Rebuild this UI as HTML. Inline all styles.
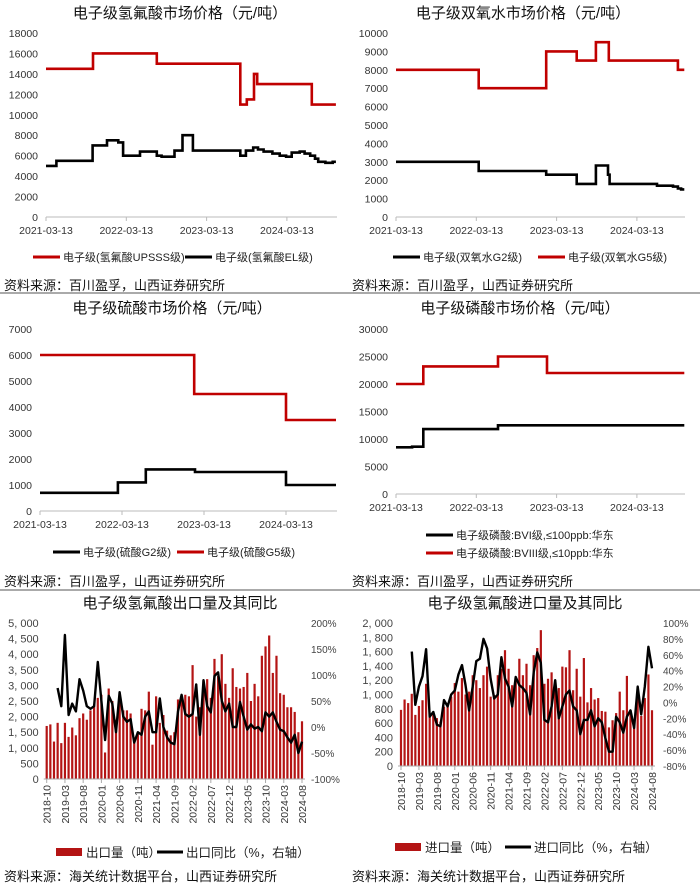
<!DOCTYPE html>
<html><head><meta charset="utf-8">
<style>
html,body{margin:0;padding:0;background:#fff;}
svg{display:block;font-family:"Liberation Sans","Noto Sans CJK SC",sans-serif;}
</style></head>
<body>
<svg id="page" width="700" height="885" viewBox="0 0 700 885" xmlns="http://www.w3.org/2000/svg">
<rect width="700" height="885" fill="#fff"/>
<line x1="0" y1="293" x2="700" y2="293" stroke="#555" stroke-width="1"/>
<line x1="0" y1="590" x2="700" y2="590" stroke="#555" stroke-width="1"/>
<g id="root"></g>
</svg>
<script>
// ---------- chart data (step series: start dates as decimal years, values) ----------
const hfRedT = [2021.2, 2021.785, 2022.58, 2023.62, 2023.70, 2023.79, 2023.83, 2024.51, 2024.81];
const hfRedV = [14500, 16000, 15000, 11000, 11500, 14000, 13000, 11000, 11000];
const hfBlkT = [2021.2, 2021.33, 2021.78, 2021.96, 2022.1, 2022.16, 2022.37, 2022.58, 2022.64, 2022.8, 2022.9, 2023.03, 2023.62, 2023.69, 2023.78, 2023.84, 2023.91, 2024.02, 2024.11, 2024.19, 2024.26, 2024.36, 2024.42, 2024.49, 2024.55, 2024.59, 2024.68, 2024.77, 2024.81];
const hfBlkV = [5000, 5500, 7000, 7500, 7300, 6000, 6400, 6000, 5900, 6500, 8000, 6500, 6000, 6500, 6800, 6600, 6400, 6200, 6000, 5900, 6300, 6400, 6200, 6000, 5700, 5400, 5300, 5400, 5400];
const hfTicks = [0, 2000, 4000, 6000, 8000, 10000, 12000, 14000, 16000, 18000];

const h2RedT = [2021.2, 2022.23, 2023.07, 2023.45, 2023.69, 2023.85, 2024.71, 2024.79];
const h2RedV = [8000, 7000, 9000, 8500, 9500, 8500, 8000, 8000];
const h2BlkT = [2021.2, 2022.23, 2023.07, 2023.45, 2023.69, 2023.84, 2023.86, 2024.45, 2024.65, 2024.71, 2024.75, 2024.79];
const h2BlkV = [3000, 2500, 2300, 1800, 2800, 2300, 1800, 1700, 1650, 1550, 1500, 1500];
const h2Ticks = [0, 1000, 2000, 3000, 4000, 5000, 6000, 7000, 8000, 9000, 10000];

const saRedT = [2021.2, 2023.08, 2024.2, 2024.81];
const saRedV = [6000, 4500, 3500, 3500];
const saBlkT = [2021.2, 2022.15, 2022.49, 2023.09, 2024.2, 2024.81];
const saBlkV = [700, 1100, 1600, 1500, 1000, 1000];
const saTicks = [0, 1000, 2000, 3000, 4000, 5000, 6000, 7000];

const paRedT = [2021.2, 2021.54, 2022.47, 2023.08, 2024.79];
const paRedV = [20000, 23200, 25000, 22000, 22000];
const paBlkT = [2021.2, 2021.4, 2021.54, 2022.47, 2024.79];
const paBlkV = [8500, 8600, 11800, 12500, 12500];
const paTicks = [0, 5000, 10000, 15000, 20000, 25000, 30000];

const dateTicks = ["2021-03-13", "2022-03-13", "2023-03-13", "2024-03-13"];
const dateTickT = [2021.2, 2022.2, 2023.2, 2024.2];

// ---------- monthly trade data 2018-10 .. 2024-08 ----------
const monthLabels = ["2018-10","2019-03","2019-08","2020-01","2020-06","2020-11","2021-04","2021-09","2022-02","2022-07","2022-12","2023-05","2023-10","2024-03","2024-08"];
const exportVol = [1700,1750,1200,1800,1150,1800,1350,1650,1400,1950,2100,1900,2200,2400,2600,2700,850,2900,2500,1900,2450,2200,2200,2100,1300,1500,2250,2200,2800,1100,2650,1800,2050,1550,1400,1500,2550,2500,2700,2650,3650,2000,2300,3150,3200,2600,3850,3300,4000,3050,2600,3550,2950,2900,2950,3400,2500,3050,2650,3950,4250,4600,3400,3950,2750,2700,2300,2300,2150,1500,1850];
const exportYoY = [null,null,null,75,40,177,23,45,30,92,70,40,35,40,125,50,-25,60,45,-10,67,20,10,15,-30,-10,-15,20,30,-10,-10,55,0,-20,-30,-33,30,62,25,20,25,82,-15,90,40,28,98,105,50,30,45,0,0,48,20,-5,5,-3,0,-8,28,20,28,10,-5,-8,-20,-30,-15,-50,-28];
const importVol = [785,930,880,1010,715,840,920,1150,720,760,670,620,830,880,970,1160,1040,1230,1000,1040,1270,1200,1090,1270,1390,970,990,1270,1360,1620,1360,1130,1180,1500,1270,1430,1130,1550,1650,1900,1150,1220,1310,1150,1090,1390,1380,1620,1060,1360,970,1510,890,1090,930,950,770,760,540,640,740,1040,780,1260,780,650,950,700,950,1280,780];
const importYoY = [null,null,null,64,-3,20,33,67,-18,-12,-28,-30,3,-5,10,15,35,47,22,-10,20,52,55,80,68,30,5,10,57,30,20,-5,32,22,18,12,-15,38,63,50,-22,-25,-5,28,-20,-5,10,15,-5,-10,-40,-22,-22,-10,-30,-20,-25,-45,-62,-62,-18,-25,-38,-18,-10,-32,20,-15,20,70,43];
const exLeftTicks = [0,500,1000,1500,2000,2500,3000,3500,4000,4500,5000];
const exRightTicks = [-100,-50,0,50,100,150,200];
const imLeftTicks = [0,200,400,600,800,1000,1200,1400,1600,1800,2000];
const imRightTicks = [-80,-60,-40,-20,0,20,40,60,80,100];

const NS = "http://www.w3.org/2000/svg";
const root = document.getElementById("root");
const RED = "#c00000", BLK = "#000";
function mk(tag, attrs, parent, txt) {
  const e = document.createElementNS(NS, tag);
  for (const k in attrs) e.setAttribute(k, attrs[k]);
  if (txt !== undefined) e.textContent = txt;
  (parent || root).appendChild(e);
  return e;
}
function fmtK(v){ return v>=1000 ? Math.floor(v/1000)+", "+String(v%1000).padStart(3,"0") : String(v); }

function stepPath(T, V, xf, yf) {
  let d = "M" + xf(T[0]).toFixed(1) + "," + yf(V[0]).toFixed(1);
  for (let i = 1; i < T.length; i++) {
    d += " H" + xf(T[i]).toFixed(1) + " V" + yf(V[i]).toFixed(1);
  }
  return d;
}

function priceChart(cfg) {
  const g = mk("g", {});
  
  
  const xf = t => cfg.x0 + (t - 2021.2) * cfg.xpy;
  const yf = v => cfg.yb - (v / cfg.vmax) * (cfg.yb - cfg.yt);
  const title = mk("text", {x: cfg.tx, y: cfg.ty, "text-anchor": "middle", "font-size": 15, fill: "#111"}, g, cfg.title);
  
  
  cfg.ticks.forEach(v => {
    const t = mk("text", {x: cfg.x0 - 8, y: yf(v) + 4, "text-anchor": "end", "font-size": 10.5, fill: "#333"}, g, String(v));
    
    
  });
  const ax = mk("line", {x1: cfg.x0, y1: cfg.yb, x2: cfg.xend, y2: cfg.yb, stroke: "#bbb", "stroke-width": 1}, g);
  
  
  dateTickT.forEach((t, i) => {
    mk("line", {x1: xf(t), y1: cfg.yb, x2: xf(t), y2: cfg.yb + 4, stroke: "#bbb"}, g);
    const l = mk("text", {x: xf(t), y: cfg.yb + 17, "text-anchor": "middle", "font-size": 10.5, fill: "#333"}, g, dateTicks[i]);
    
    
  });
  cfg.series.forEach(s => {
    const p = mk("path", {d: stepPath(s.T, s.V, xf, yf), fill: "none", stroke: s.c, "stroke-width": 2.6, "stroke-linejoin": "miter"}, g);
    
    
  });
  cfg.legend.forEach(L => {
    const lg = mk("g", {}, g);
    
    
    mk("line", {x1: L.x, y1: L.y, x2: L.x + 27, y2: L.y, stroke: L.c, "stroke-width": 3}, lg);
    mk("text", {x: L.x + 30, y: L.y + 4, "font-size": 11, fill: "#222"}, lg, L.t);
  });
  const src = mk("text", {x: cfg.sx, y: cfg.sy, "font-size": 13, fill: "#111"}, g, "资料来源：百川盈孚，山西证券研究所");
  
  
}

priceChart({name: "hf-price-chart", title: "电子级氢氟酸市场价格（元/吨）", tx: 180, ty: 18, x0: 46, xpy: 80.3, xend: 337, yb: 217, yt: 33, vmax: 18000, ticks: hfTicks,
  series: [{T: hfRedT, V: hfRedV, c: RED, name: "line-upsss"}, {T: hfBlkT, V: hfBlkV, c: BLK, name: "line-el"}],
  legend: [{x: 33, y: 257, c: RED, t: "电子级(氢氟酸UPSSS级)"}, {x: 185, y: 257, c: BLK, t: "电子级(氢氟酸EL级)"}], sx: 4, sy: 290});
priceChart({name: "h2o2-price-chart", title: "电子级双氧水市场价格（元/吨）", tx: 523, ty: 18, x0: 396, xpy: 80.3, xend: 685, yb: 217, yt: 33, vmax: 10000, ticks: h2Ticks,
  series: [{T: h2RedT, V: h2RedV, c: RED, name: "line-g5"}, {T: h2BlkT, V: h2BlkV, c: BLK, name: "line-g2"}],
  legend: [{x: 393, y: 257, c: BLK, t: "电子级(双氧水G2级)"}, {x: 538, y: 257, c: RED, t: "电子级(双氧水G5级)"}], sx: 352, sy: 290});
priceChart({name: "sulfuric-price-chart", title: "电子级硫酸市场价格（元/吨）", tx: 172, ty: 313, x0: 40, xpy: 82, xend: 337, yb: 511, yt: 329, vmax: 7000, ticks: saTicks,
  series: [{T: saRedT, V: saRedV, c: RED, name: "line-g5"}, {T: saBlkT, V: saBlkV, c: BLK, name: "line-g2"}],
  legend: [{x: 53, y: 552, c: BLK, t: "电子级(硫酸G2级)"}, {x: 177, y: 552, c: RED, t: "电子级(硫酸G5级)"}], sx: 4, sy: 586});
priceChart({name: "phosphoric-price-chart", title: "电子级磷酸市场价格（元/吨）", tx: 520, ty: 313, x0: 396, xpy: 80.3, xend: 685, yb: 494, yt: 329, vmax: 30000, ticks: paTicks,
  series: [{T: paRedT, V: paRedV, c: RED, name: "line-bviii"}, {T: paBlkT, V: paBlkV, c: BLK, name: "line-bvi"}],
  legend: [{x: 426, y: 535, c: BLK, t: "电子级磷酸:BVI级,≤100ppb:华东"}, {x: 426, y: 553, c: RED, t: "电子级磷酸:BVIII级,≤10ppb:华东"}], sx: 352, sy: 586});

function tradeChart(cfg) {
  const g = mk("g", {});
  
  
  const n = cfg.vol.length;
  const xf = i => cfg.x0 + i * (cfg.x1 - cfg.x0) / (n - 1);
  const yL = v => cfg.yb - v / cfg.lmax * (cfg.yb - cfg.yt);
  const yR = v => cfg.yb - (v - cfg.rmin) / (cfg.rmax - cfg.rmin) * (cfg.yb - cfg.yt);
  const title = mk("text", {x: cfg.tx, y: 608, "text-anchor": "middle", "font-size": 15, fill: "#111"}, g, cfg.title);
  
  
  cfg.lt.forEach(v => {
    const t = mk("text", {x: cfg.x0 - 8, y: yL(v) + 4, "text-anchor": "end", "font-size": 11, fill: "#444"}, g, fmtK(v));
    
    
  });
  cfg.rt.forEach(v => {
    const t = mk("text", {x: cfg.rx, y: yR(v) + 4, "font-size": 10, fill: "#444"}, g, v + "%");
    
    
  });
  cfg.vol.forEach((v, i) => {
    const b = mk("rect", {x: xf(i) - 1.1, y: yL(v), width: 2.2, height: cfg.yb - yL(v), fill: "#b41414"}, g);
    
    
  });
  const ax = mk("line", {x1: cfg.x0 - 3, y1: cfg.yb, x2: cfg.x1 + 3, y2: cfg.yb, stroke: "#aaa"}, g);
  
  
  monthLabels.forEach((m, k) => {
    const i = k * 5;
    mk("line", {x1: xf(i), y1: cfg.yb, x2: xf(i), y2: cfg.yb + 4, stroke: "#aaa"}, g);
    const t = mk("text", {x: 0, y: 0, "text-anchor": "end", "font-size": 10.5, fill: "#333", transform: `translate(${xf(i) + 4},${cfg.yb + 6}) rotate(-90)`}, g, m);
    
    
  });
  let d = "", started = false;
  cfg.yoy.forEach((v, i) => {
    if (v === null) return;
    d += (started ? " L" : "M") + xf(i).toFixed(1) + "," + yR(v).toFixed(1);
    started = true;
  });
  const p = mk("path", {d: d, fill: "none", stroke: "#000", "stroke-width": 2.4, "stroke-linejoin": "round"}, g);
  
  
  const l1 = mk("g", {}, g);
  
  
  mk("rect", {x: cfg.lx, y: cfg.ly - 4, width: 26, height: 8, fill: "#b41414"}, l1);
  mk("text", {x: cfg.lx + 30, y: cfg.ly + 5, "font-size": 12.5, fill: "#222"}, l1, cfg.l1);
  const l2 = mk("g", {}, g);
  
  
  mk("line", {x1: cfg.lx2, y1: cfg.ly, x2: cfg.lx2 + 26, y2: cfg.ly, stroke: "#000", "stroke-width": 3}, l2);
  mk("text", {x: cfg.lx2 + 29, y: cfg.ly + 5, "font-size": 12.5, fill: "#222"}, l2, cfg.l2);
  const src = mk("text", {x: cfg.sx, y: 881, "font-size": 13, fill: "#111"}, g, "资料来源：海关统计数据平台，山西证券研究所");
  
  
}

tradeChart({name: "hf-export-chart", title: "电子级氢氟酸出口量及其同比", tx: 180, x0: 46.7, x1: 302, yb: 779, yt: 623, lmax: 5000, rmin: -100, rmax: 200,
  vol: exportVol, yoy: exportYoY, lt: exLeftTicks, rt: exRightTicks, rx: 311,
  lx: 56, ly: 852, l1: "出口量（吨）", lx2: 157, l2: "出口同比（%，右轴）", sx: 4});
tradeChart({name: "hf-import-chart", title: "电子级氢氟酸进口量及其同比", tx: 525, x0: 401, x1: 652, yb: 766, yt: 623, lmax: 2000, rmin: -80, rmax: 100,
  vol: importVol, yoy: importYoY, lt: imLeftTicks, rt: imRightTicks, rx: 663,
  lx: 395, ly: 847, l1: "进口量（吨）", lx2: 505, l2: "进口同比（%，右轴）", sx: 352});
</script>
</body></html>
